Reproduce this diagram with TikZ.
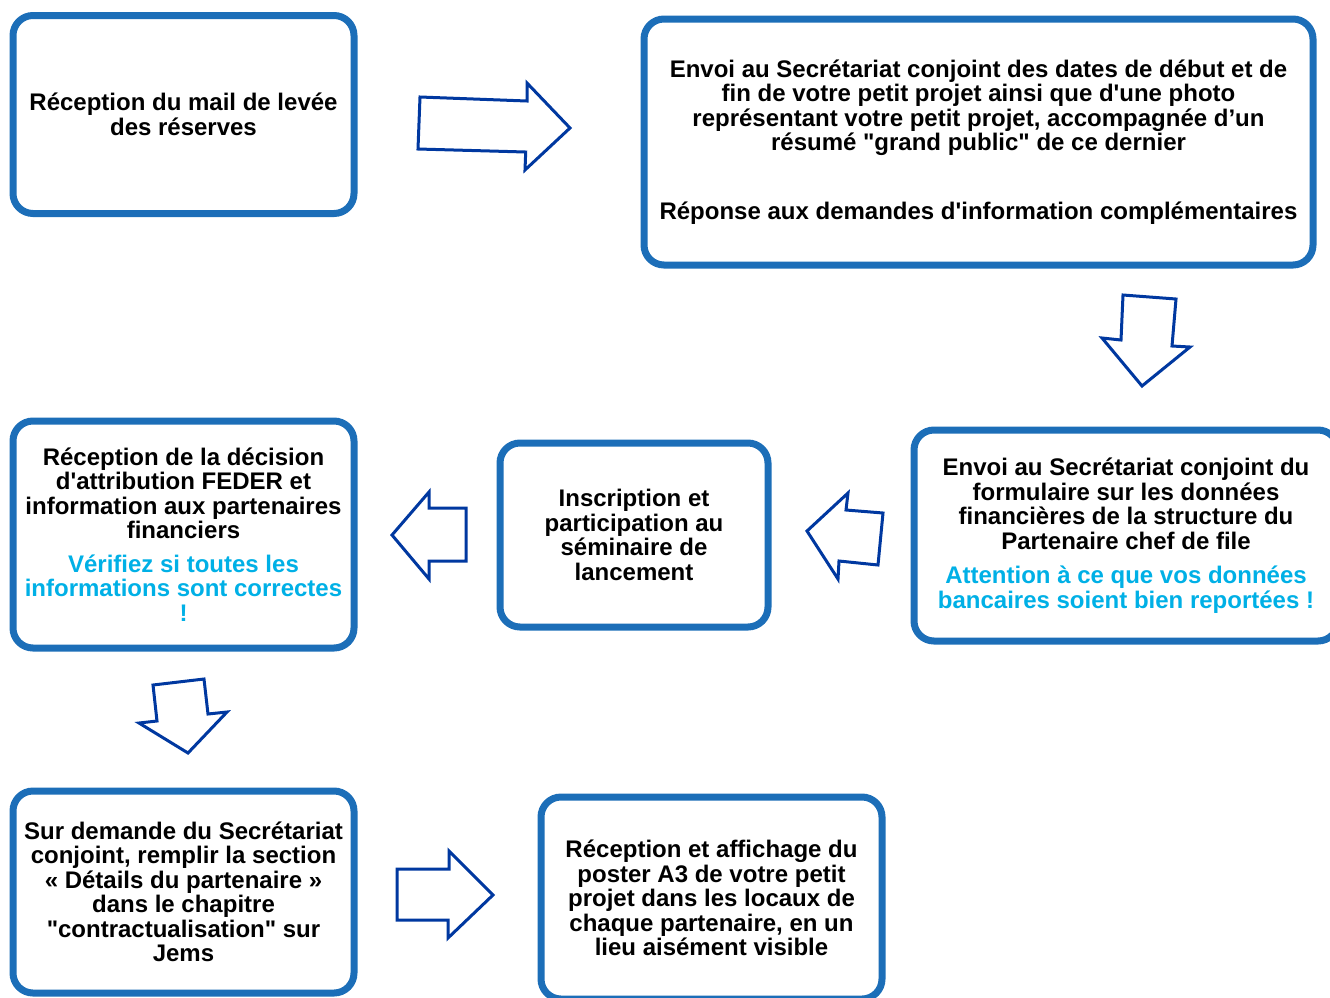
\documentclass[tikz,border=0pt]{standalone}
\usepackage{fontspec}
\setmainfont{Liberation Sans}[Ligatures=TeXOff]
\definecolor{boxblue}{RGB}{28,110,184}
\definecolor{arrowblue}{RGB}{0,56,160}
\definecolor{tipcyan}{RGB}{0,176,230}
\begin{document}
\begin{tikzpicture}[x=1pt,y=-1pt,
  box/.style={draw=boxblue, line width=7pt, rounded corners=20pt, fill=white, align=center,
    font=\fontsize{24}{24.5}\selectfont\bfseries, inner sep=0pt},
  blockarrow/.style={draw=arrowblue, line width=3pt, fill=white, line join=miter}]
\useasboundingbox (0,0) rectangle (1330,997);
\clip (0,0) rectangle (1330,997);

\node[box, minimum width=341pt, minimum height=198pt] (b1) at (183.5,114.5)
  {Réception du mail de levée\\des réserves};
\node[box, minimum width=669pt, minimum height=246pt] (b2) at (978.5,142)
  {Envoi au Secrétariat conjoint des dates de début et de\\
   fin de votre petit projet ainsi que d'une photo\\
   représentant votre petit projet, accompagnée d’un\\
   résumé "grand public" de ce dernier\\[44pt]
   Réponse aux demandes d'information complémentaires};
\node[box, minimum width=424pt, minimum height=211pt] (b3) at (1126,535.5)
  {Envoi au Secrétariat conjoint du\\
   formulaire sur les données\\
   financières de la structure du\\
   Partenaire chef de file\\[10pt]
   \textcolor{tipcyan}{Attention à ce que vos données}\\
   \textcolor{tipcyan}{bancaires soient bien reportées !}};
\node[box, minimum width=268pt, minimum height=184pt] (b4) at (634,535)
  {Inscription et\\participation au\\séminaire de\\lancement};
\node[box, minimum width=341pt, minimum height=227pt] (b5) at (183.5,534.5)
  {Réception de la décision\\
   d'attribution FEDER et\\
   information aux partenaires\\
   financiers\\[9pt]
   \textcolor{tipcyan}{Vérifiez si toutes les}\\
   \textcolor{tipcyan}{informations sont correctes}\\
   \textcolor{tipcyan}{!}};
\node[box, minimum width=341pt, minimum height=202pt] (b6) at (183.5,892)
  {Sur demande du Secrétariat\\
   conjoint, remplir la section\\
   « Détails du partenaire »\\
   dans le chapitre\\
   "contractualisation" sur\\
   Jems};
\node[box, minimum width=341pt, minimum height=202pt] (b7) at (711.5,898)
  {Réception et affichage du\\
   poster A3 de votre petit\\
   projet dans les locaux de\\
   chaque partenaire, en un\\
   lieu aisément visible};

% block arrows
\draw[blockarrow] (420,97) -- (527,101) -- (527,83) -- (570,128) -- (525,170) -- (525.7,152) -- (418,149) -- cycle;
\draw[blockarrow] (1123,295) -- (1176,299) -- (1172,346) -- (1190,347) -- (1142,386) -- (1102,338) -- (1121,340) -- cycle;
\draw[blockarrow] (807,531) -- (848,493) -- (846,510) -- (883,513) -- (878,565) -- (839,561) -- (838,579) -- cycle;
\draw[blockarrow] (392,535) -- (429,492) -- (429,508) -- (466,508) -- (466,561) -- (429,561) -- (429,579) -- cycle;
\draw[blockarrow] (153,685) -- (204,679) -- (208,714) -- (227,712) -- (188,753) -- (139,723) -- (157,721) -- cycle;
\draw[blockarrow] (397,869) -- (449,869) -- (449,851) -- (493,895) -- (448,938) -- (448,920) -- (397,920) -- cycle;
\end{tikzpicture}
\end{document}
